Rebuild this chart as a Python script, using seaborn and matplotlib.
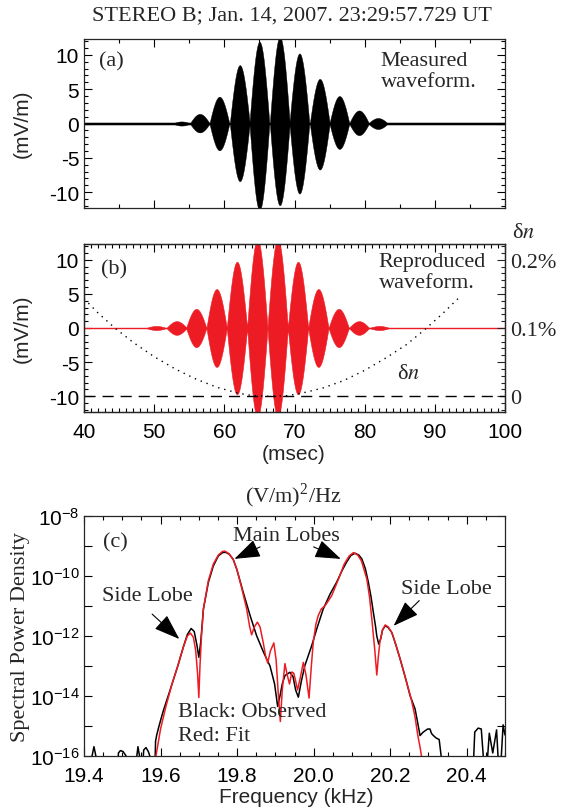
import numpy as np
import pandas as pd
import matplotlib
matplotlib.use("Agg")
import matplotlib.pyplot as plt
import matplotlib.ticker as mticker
import seaborn as sns

# Panel (a): measured waveform, lobes of the beat envelope (msec, mV/m)
lobe_t_a = [53.9, 56.5, 59.3, 62.2, 65.0, 67.9, 70.7, 73.6, 76.4, 79.2, 81.9]
lobe_up_a = [0.3, 1.4, 3.9, 8.5, 11.9, 12.6, 10.2, 6.5, 4.0, 1.9, 0.8]
lobe_dn_a = [0.3, 1.3, 3.9, 8.4, 12.6, 11.9, 10.2, 6.7, 3.7, 1.7, 0.8]
noise_a = 0.15

# Panel (b): reproduced waveform
lobe_t_b = [50.3, 53.2, 56.0, 58.9, 61.8, 64.7, 67.6, 70.5, 73.4, 76.3, 79.2, 82.1]
lobe_amp_b = [0.3, 1.0, 2.8, 5.7, 9.7, 13.0, 13.0, 9.7, 5.7, 2.8, 1.0, 0.3]

# density perturbation (percent)
dn_t = [40, 42, 44.4, 47, 50, 53, 56, 59, 62, 64, 66.4, 69, 71, 74, 77, 80, 83, 86, 88.6, 91, 93.3]
dn_pct = [0.143, 0.122, 0.100, 0.079, 0.058, 0.040, 0.025, 0.013, 0.0045, 0.001, 0.0,
          0.001, 0.0045, 0.012, 0.023, 0.038, 0.056, 0.076, 0.098, 0.120, 0.143]

# Panel (c): spectra, frequency (kHz) and log10 of PSD ((V/m)^2/Hz)
f_obs = [19.400, 19.418, 19.421, 19.426, 19.431, 19.436, 19.485, 19.490, 19.495, 19.502,
         19.510, 19.515, 19.535, 19.538, 19.541, 19.545, 19.550, 19.556, 19.562, 19.568,
         19.572, 19.576, 19.584, 19.587, 19.590, 19.596, 19.607, 19.625, 19.645, 19.660,
         19.670, 19.680, 19.688, 19.695, 19.700, 19.705, 19.712, 19.725, 19.738, 19.751,
         19.762, 19.770, 19.780, 19.790, 19.799, 19.816, 19.834, 19.851, 19.869, 19.886,
         19.898, 19.906, 19.912, 19.918, 19.925, 19.938, 19.946, 19.953, 19.960, 19.968,
         19.977, 19.995, 20.008, 20.025, 20.043, 20.060, 20.075, 20.086, 20.097, 20.108,
         20.118, 20.126, 20.135, 20.143, 20.150, 20.156, 20.162, 20.165, 20.170, 20.175,
         20.180, 20.187, 20.195, 20.204, 20.215, 20.226, 20.240, 20.252, 20.265, 20.272,
         20.278, 20.285, 20.291, 20.298, 20.304, 20.308, 20.313, 20.320, 20.328, 20.335,
         20.340, 20.415, 20.421, 20.430, 20.438, 20.449, 20.459, 20.468, 20.478, 20.486,
         20.495, 20.500]
lp_obs = [-17, -17, -16.0, -15.69, -16.0, -17, -17, -15.9, -15.82, -15.85,
          -16.0, -17, -17, -16.0, -15.69, -16.0, -17, -15.8, -15.72, -15.85,
          -16.0, -17, -17, -15.5, -15.3, -15.0, -14.5, -13.8, -13.0, -12.35,
          -11.95, -11.75, -11.85, -12.3, -12.71, -12.2, -11.1, -10.21, -9.66, -9.33,
          -9.22, -9.21, -9.28, -9.45, -9.77, -10.54, -11.32, -11.99, -12.54, -13.0,
          -13.6, -14.35, -14.0, -13.6, -13.32, -13.21, -13.35, -13.8, -14.04, -13.5,
          -12.99, -12.32, -11.77, -11.1, -10.6, -10.21, -9.8, -9.54, -9.32, -9.24,
          -9.3, -9.43, -9.75, -10.21, -10.7, -11.21, -11.7, -12.0, -12.27, -12.1,
          -11.8, -11.66, -11.72, -11.88, -12.3, -12.77, -13.4, -13.99, -14.43, -14.9,
          -15.32, -15.22, -15.16, -15.1, -15.1, -15.25, -15.32, -15.4, -15.45, -16.2,
          -17, -17, -15.2, -15.07, -15.1, -17, -15.24, -15.9, -15.13, -17,
          -14.96, -15.3]

f_fit = [19.585, 19.588, 19.600, 19.615, 19.630, 19.645, 19.660, 19.670, 19.678, 19.686,
         19.692, 19.697, 19.700, 19.703, 19.707, 19.712, 19.725, 19.738, 19.751, 19.762,
         19.768, 19.778, 19.790, 19.800, 19.812, 19.825, 19.833, 19.838, 19.845, 19.853,
         19.860, 19.868, 19.875, 19.880, 19.887, 19.896, 19.902, 19.908, 19.913, 19.918,
         19.925, 19.931, 19.937, 19.943, 19.948, 19.953, 19.958, 19.965, 19.973, 19.980,
         19.988, 19.994, 19.999, 20.006, 20.012, 20.020, 20.030, 20.047, 20.065, 20.080,
         20.093, 20.104, 20.115, 20.125, 20.139, 20.146, 20.152, 20.160, 20.165, 20.169,
         20.173, 20.180, 20.187, 20.195, 20.205, 20.215, 20.228, 20.242, 20.255, 20.265,
         20.272, 20.278, 20.283, 20.290]
lp_fit = [-17, -16.0, -15.1, -14.3, -13.6, -13.0, -12.35, -12.0, -11.9, -12.05,
          -12.5, -13.3, -14.05, -13.0, -12.0, -11.1, -10.15, -9.6, -9.3, -9.18,
          -9.17, -9.25, -9.45, -9.8, -10.4, -11.1, -11.7, -11.96, -11.7, -11.54,
          -11.7, -12.2, -12.7, -12.9, -12.5, -12.23, -12.8, -14.0, -14.85, -13.8,
          -12.92, -13.3, -13.6, -13.2, -13.24, -13.5, -13.8, -13.4, -12.88, -13.3,
          -14.07, -13.0, -12.21, -11.6, -11.32, -11.1, -10.99, -10.66, -10.1, -9.6,
          -9.33, -9.22, -9.3, -9.5, -10.1, -10.7, -11.43, -12.5, -13.3, -12.7,
          -12.21, -11.8, -11.63, -11.7, -11.9, -12.3, -12.85, -13.5, -14.1, -14.7,
          -15.3, -15.7, -16.1, -17]

RED = "#ed1c24"
SERIF = "Liberation Serif"
FS = 15      # sans labels
FSS = 16     # serif annotations

sns.set_style("ticks")
plt.rcParams["font.family"] = ["Liberation Sans", "DejaVu Sans"]
plt.rcParams["mathtext.fontset"] = "stix"
plt.rcParams["axes.unicode_minus"] = False
plt.rcParams["axes.linewidth"] = 0.9
plt.rcParams["xtick.direction"] = "in"
plt.rcParams["ytick.direction"] = "in"


def envelope(t, centers, amps, half):
    # one arch per beat lobe
    env = np.zeros_like(t)
    for c, a in zip(centers, amps):
        m = np.abs(t - c) < half
        env[m] = np.maximum(env[m], a * np.cos(np.pi * (t[m] - c) / (2 * half)))
    return env


def style_ticks(ax):
    ax.tick_params(which="both", top=True, right=True, colors="k", width=0.8)
    ax.tick_params(which="major", length=6, labelsize=FS)
    ax.tick_params(which="minor", length=3)


fig = plt.figure(figsize=(5.72, 8.12), dpi=100)
W, H = 572.0, 812.0
ax_a = fig.add_axes([84 / W, 1 - 209 / H, 421 / W, 169 / H])
ax_b = fig.add_axes([84 / W, 1 - 413 / H, 421 / W, 168 / H])
ax_c = fig.add_axes([84 / W, 1 - 757 / H, 421 / W, 240 / H])

t = np.linspace(40, 100, 6000)

# (a) measured waveform
up_a = np.maximum(envelope(t, lobe_t_a, lobe_up_a, 1.42), noise_a)
dn_a = np.maximum(envelope(t, lobe_t_a, lobe_dn_a, 1.42), noise_a)
ax_a.fill_between(t, -dn_a, up_a, color="k", lw=0.3, edgecolor="k")
ax_a.set_xlim(40, 100)
ax_a.set_ylim(-12.3, 12.3)
ax_a.xaxis.set_major_locator(mticker.MultipleLocator(10))
ax_a.xaxis.set_minor_locator(mticker.MultipleLocator(5))
ax_a.yaxis.set_major_locator(mticker.MultipleLocator(5))
ax_a.yaxis.set_minor_locator(mticker.MultipleLocator(1))
ax_a.set_xticklabels([])
style_ticks(ax_a)
ax_a.text(42.1, 9.1, "(a)", family=SERIF, fontsize=FSS, va="center", ha="left")
ax_a.text(82.3, 9.1, "Measured", family=SERIF, fontsize=FSS, va="center", ha="left")
ax_a.text(82.3, 6.1, "waveform.", family=SERIF, fontsize=FSS, va="center", ha="left")

# (b) reproduced waveform
env_b = envelope(t, lobe_t_b, lobe_amp_b, 1.45)
ax_b.fill_between(t, -env_b, env_b, color=RED, lw=0.4, edgecolor=RED)
ax_b.axhline(0, color=RED, lw=1.0)
ax_b.set_xlim(40, 100)
ax_b.set_ylim(-12.3, 12.3)
ax_b.xaxis.set_major_locator(mticker.MultipleLocator(10))
ax_b.xaxis.set_minor_locator(mticker.MultipleLocator(1))
ax_b.yaxis.set_major_locator(mticker.MultipleLocator(5))
ax_b.yaxis.set_minor_locator(mticker.MultipleLocator(1))
style_ticks(ax_b)
ax_b.tick_params(which="both", right=False)
ax_b.tick_params(axis="x", pad=7)
ax_b.text(42.4, 8.6, "(b)", family=SERIF, fontsize=FSS, va="center", ha="left")
ax_b.text(82.0, 9.8, "Reproduced", family=SERIF, fontsize=FSS, va="center", ha="left")
ax_b.text(82.0, 6.7, "waveform.", family=SERIF, fontsize=FSS, va="center", ha="left")
ax_b.text(84.6, -6.6, "δ$n$", family=SERIF, fontsize=FSS, va="center", ha="left")

ax_d = ax_b.twinx()
dn_df = pd.DataFrame({"t": dn_t, "dn": dn_pct})
sns.lineplot(data=dn_df, x="t", y="dn", ax=ax_d, color="k", lw=1.0,
             linestyle=(0, (1, 3.5)))
ax_d.axhline(0, color="k", lw=1.0, linestyle=(0, (8, 5)))
ax_d.set_ylim(-0.023, 0.223)
ax_d.set_xlim(40, 100)
ax_d.set_ylabel("")
ax_d.set_xlabel("")
ax_d.yaxis.set_major_locator(mticker.FixedLocator([0, 0.05, 0.1, 0.15, 0.2]))
ax_d.yaxis.set_major_formatter(mticker.FixedFormatter(["0", "", "0.1%", "", "0.2%"]))
ax_d.yaxis.set_minor_locator(mticker.MultipleLocator(0.01))
ax_d.tick_params(which="both", direction="in", right=True, left=False, width=0.8)
ax_d.tick_params(which="major", length=6, labelsize=FSS)
ax_d.tick_params(which="minor", length=3)
for lab in ax_d.get_yticklabels():
    lab.set_family(SERIF)
ax_b.set_ylabel("")
ax_b.set_xlabel("")

# (c) spectra
obs_df = pd.DataFrame({"f": f_obs, "psd": 10.0 ** np.array(lp_obs)})
fit_df = pd.DataFrame({"f": f_fit, "psd": 10.0 ** np.array(lp_fit)})
ax_c.set_yscale("log")
sns.lineplot(data=obs_df, x="f", y="psd", ax=ax_c, color="k", lw=1.1, sort=False)
sns.lineplot(data=fit_df, x="f", y="psd", ax=ax_c, color=RED, lw=1.1, sort=False)
ax_c.set_xlim(19.4, 20.5)
ax_c.set_ylim(1e-16, 1e-8)
ax_c.xaxis.set_major_locator(mticker.MultipleLocator(0.2))
ax_c.xaxis.set_minor_locator(mticker.MultipleLocator(0.05))
ax_c.xaxis.set_major_formatter(mticker.FormatStrFormatter("%.1f"))
ax_c.yaxis.set_major_locator(mticker.FixedLocator([1e-16, 1e-14, 1e-12, 1e-10, 1e-8]))
ax_c.yaxis.set_major_formatter(mticker.LogFormatterSciNotation())
ax_c.yaxis.set_minor_locator(mticker.FixedLocator([1e-15, 1e-13, 1e-11, 1e-9]))
ax_c.yaxis.set_minor_formatter(mticker.NullFormatter())
style_ticks(ax_c)
ax_c.tick_params(axis="y", which="minor", length=6)
ax_c.tick_params(axis="x", pad=7)
ax_c.tick_params(axis="y", pad=3)
ax_c.set_xlabel("")
ax_c.set_ylabel("")

ax_c.text(19.449, 10 ** -8.87, "(c)", family=SERIF, fontsize=FSS, va="center", ha="left")
ax_c.text(19.928, 10 ** -8.66, "Main Lobes", family=SERIF, fontsize=FSS, va="center", ha="center")
ax_c.text(19.565, 10 ** -10.66, "Side Lobe", family=SERIF, fontsize=FSS, va="center", ha="center")
ax_c.text(20.346, 10 ** -10.43, "Side Lobe", family=SERIF, fontsize=FSS, va="center", ha="center")
ax_c.text(19.646, 10 ** -14.53, "Black: Observed", family=SERIF, fontsize=FSS, va="center", ha="left")
ax_c.text(19.646, 10 ** -15.33, "Red: Fit", family=SERIF, fontsize=FSS, va="center", ha="left")

arrows = [((19.860, -9.03), (19.793, -9.43)),
          ((20.000, -9.03), (20.071, -9.43)),
          ((19.578, -11.27), (19.649, -12.10)),
          ((20.276, -10.82), (20.209, -11.66))]
for (tx, ty), (hx, hy) in arrows:
    ax_c.annotate("", xy=(hx, 10 ** hy), xytext=(tx, 10 ** ty),
                  arrowprops=dict(arrowstyle="-|>,head_length=0.9,head_width=0.32",
                                  color="k", lw=0.8, shrinkA=0, shrinkB=0,
                                  mutation_scale=18))

# figure-level labels
fig.text(292 / W, 1 - 16 / H, "STEREO B; Jan. 14, 2007. 23:29:57.729 UT",
         family=SERIF, fontsize=FSS, ha="center", va="center")
fig.text(22 / W, 1 - 124 / H, "(mV/m)", fontsize=FS, rotation=90, ha="center", va="center")
fig.text(22 / W, 1 - 329 / H, "(mV/m)", fontsize=FS, rotation=90, ha="center", va="center")
fig.text(294 / W, 1 - 455 / H, "(msec)", fontsize=FS, ha="center", va="center")
fig.text(524 / W, 1 - 233 / H, "δ$n$", family=SERIF, fontsize=FSS, ha="center", va="center")
fig.text(293 / W, 1 - 496 / H, r"(V/m)$^{\mathdefault{2}}$/Hz", family=SERIF,
         fontsize=FSS, ha="center", va="center")
fig.text(21 / W, 1 - 637 / H, "Spectral Power Density", family=SERIF, fontsize=FSS,
         rotation=90, ha="center", va="center")
fig.text(296 / W, 1 - 798 / H, "Frequency (kHz)", fontsize=FS, ha="center", va="center")

fig.savefig("out.png", dpi=100)
